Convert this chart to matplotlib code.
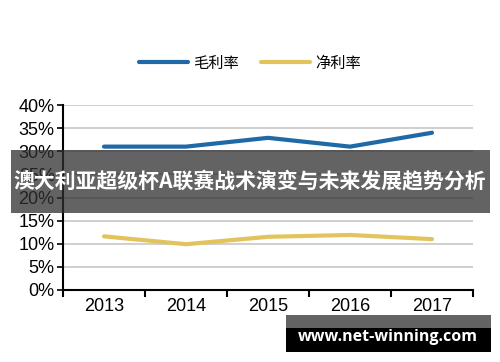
import matplotlib
matplotlib.use("Agg")
import matplotlib.pyplot as plt
from matplotlib.patches import Rectangle

years = ["2013", "2014", "2015", "2016", "2017"]
gross_margin = [31.0, 31.0, 32.9, 31.0, 34.0]
net_margin = [11.6, 9.9, 11.5, 11.9, 11.0]
y_ticks = [0, 5, 10, 15, 20, 25, 30, 35, 40]
series_names = ["毛利率", "净利率"]
title = "澳大利亚超级杯A联赛战术演变与未来发展趋势分析"
watermark = "www.net-winning.com"

plt.rcParams['font.family'] = ['Liberation Sans', 'Noto Sans CJK SC', 'DejaVu Sans']

W, H = 500, 362
fig = plt.figure(figsize=(W/100, H/100), dpi=100)
ax = fig.add_axes([63/W, 1-290/H, (473-63)/W, (290-105)/H])

x = list(range(len(years)))
l1, = ax.plot(x, gross_margin, color="#1F69A6", lw=3.0, solid_capstyle='round', zorder=3)
l2, = ax.plot(x, net_margin, color="#E3C45C", lw=3.0, solid_capstyle='round', zorder=3)

ax.set_xlim(-0.5, len(years) - 0.5)
ax.set_ylim(0, 40)
ax.set_yticks(y_ticks)
ax.set_yticklabels([f"{v}%" for v in y_ticks], fontsize=13)
ax.yaxis.grid(True, color="#CCCCCC", lw=1.3)
ax.set_axisbelow(True)

ax.set_xticks([i - 0.5 for i in range(len(years) + 1)])
ax.set_xticklabels([])
ax.set_xticks(x, minor=True)
ax.set_xticklabels(years, minor=True, fontsize=13)
ax.tick_params(axis='x', which='major', direction='out', length=5, width=1.5, color='black')
ax.tick_params(axis='x', which='minor', length=0, pad=6)
ax.tick_params(axis='y', direction='out', length=4, width=1.2, pad=2)

for s in ['top', 'right']:
    ax.spines[s].set_visible(False)
ax.spines['left'].set_linewidth(1.5)
ax.spines['bottom'].set_linewidth(1.5)

leg = fig.legend([l1, l2], series_names, loc='center', bbox_to_anchor=(250/W, 1-63/H),
                 ncol=2, frameon=False, handlelength=3.2, columnspacing=1.5,
                 handletextpad=0.3, prop={'family': ['Noto Sans CJK SC'], 'size': 11})

# overlay band
fig.patches.append(Rectangle((11/W, 1-213/H), (490-11)/W, 63/H, transform=fig.transFigure,
                             facecolor="#2F2F2F", alpha=0.75, edgecolor='none', zorder=10))
fig.text(250/W, 1-182/H, title, color='white', fontsize=15, fontweight='bold',
         family=['Noto Sans CJK SC'], ha='center', va='center', zorder=11)

# watermark
fig.patches.append(Rectangle((286/W, 1-352/H), (491-286)/W, 24/H, transform=fig.transFigure,
                             facecolor="black", edgecolor='none', zorder=10))
fig.patches.append(Rectangle((286/W, 1-328/H), (491-286)/W, 13/H, transform=fig.transFigure,
                             facecolor="#2F2F2F", alpha=0.75, edgecolor='none', zorder=10))
fig.text(388/W, 1-337/H, watermark, color='white', fontsize=11.5, fontweight='bold',
         family=['Open Sans', 'DejaVu Sans'], ha='center', va='center', zorder=11)

fig.savefig("out.png", dpi=100)
